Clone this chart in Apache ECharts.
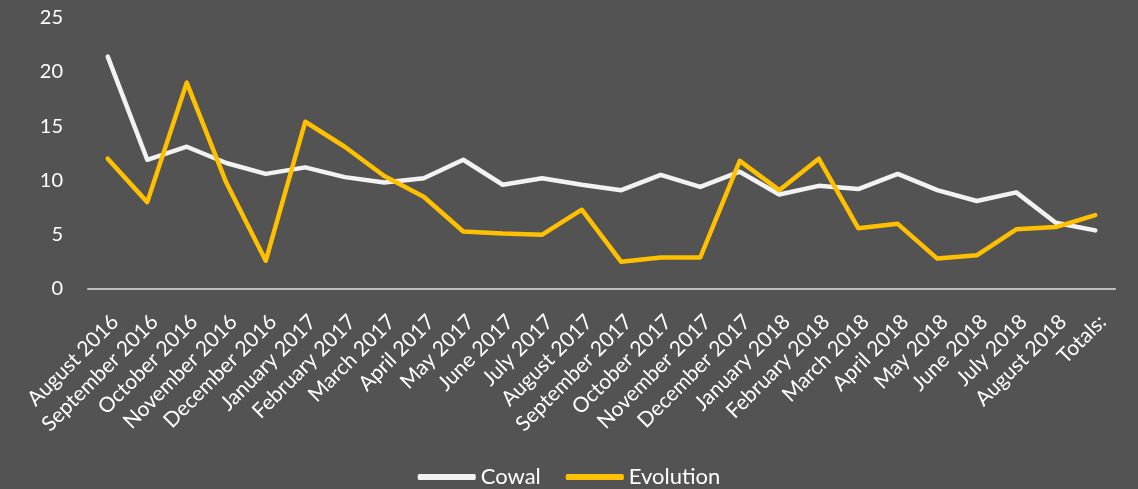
<!DOCTYPE html>
<html>
<head>
<meta charset="utf-8">
<script src="https://cdn.jsdelivr.net/npm/echarts@6/dist/echarts.min.js"></script>
<style>
  html, body { margin: 0; padding: 0; background: #535353; }
  #chart { width: 1138px; height: 489px; }
</style>
</head>
<body>
<div id="chart"></div>
<script>
// Monthly values for each site, with the overall total as the last point
const months = [
  'August 2016', 'September 2016', 'October 2016', 'November 2016', 'December 2016',
  'January 2017', 'February 2017', 'March 2017', 'April 2017', 'May 2017',
  'June 2017', 'July 2017', 'August 2017', 'September 2017', 'October 2017',
  'November 2017', 'December 2017', 'January 2018', 'February 2018', 'March 2018',
  'April 2018', 'May 2018', 'June 2018', 'July 2018', 'August 2018', 'Totals:'
];
const cowal = [
  21.4, 11.9, 13.1, 11.6, 10.6, 11.2, 10.3, 9.8, 10.2, 11.9,
  9.6, 10.2, 9.6, 9.1, 10.5, 9.4, 10.8, 8.7, 9.5, 9.2,
  10.6, 9.1, 8.1, 8.9, 6.1, 5.4
];
const evolution = [
  12.0, 8.0, 19.0, 9.8, 2.6, 15.4, 13.1, 10.4, 8.5, 5.3,
  5.1, 5.0, 7.3, 2.5, 2.9, 2.9, 11.8, 9.1, 12.0, 5.6,
  6.0, 2.8, 3.1, 5.5, 5.7, 6.8
];
const yTicks = { min: 0, max: 25, interval: 5 };

const FONT = 'Lato, "Open Sans", sans-serif';
const chart = echarts.init(document.getElementById('chart'));
chart.setOption({
  backgroundColor: '#535353',
  animation: false,
  textStyle: { fontFamily: FONT, color: '#ffffff' },
  grid: { left: 88, right: 23, top: 17.5, bottom: 200, containLabel: false },
  legend: {
    top: 461,
    left: 'center',
    itemWidth: 58,
    itemHeight: 6,
    itemGap: 25,
    icon: 'roundRect',
    textStyle: { color: '#ffffff', fontSize: 22, fontFamily: FONT },
    data: ['Cowal', 'Evolution']
  },
  xAxis: {
    type: 'category',
    data: months,
    boundaryGap: true,
    axisLine: { show: true, lineStyle: { color: '#bfbfbf', width: 2 } },
    axisTick: { show: false },
    axisLabel: {
      rotate: 45,
      interval: 0,
      margin: 22,
      verticalAlign: 'top',
      color: '#ffffff',
      fontSize: 21,
      fontFamily: FONT
    }
  },
  yAxis: {
    type: 'value',
    min: yTicks.min,
    max: yTicks.max,
    interval: yTicks.interval,
    axisLine: { show: false },
    axisTick: { show: false },
    splitLine: { show: false },
    axisLabel: { margin: 25, color: '#ffffff', fontSize: 20, fontFamily: FONT }
  },
  series: [
    {
      name: 'Cowal',
      type: 'line',
      data: cowal,
      symbol: 'none',
      lineStyle: { color: '#f2f2f2', width: 4.5, cap: 'round', join: 'round' },
      itemStyle: { color: '#f2f2f2' }
    },
    {
      name: 'Evolution',
      type: 'line',
      data: evolution,
      symbol: 'none',
      lineStyle: { color: '#ffc000', width: 4.5, cap: 'round', join: 'round' },
      itemStyle: { color: '#ffc000' }
    }
  ]
});
</script>
</body>
</html>
